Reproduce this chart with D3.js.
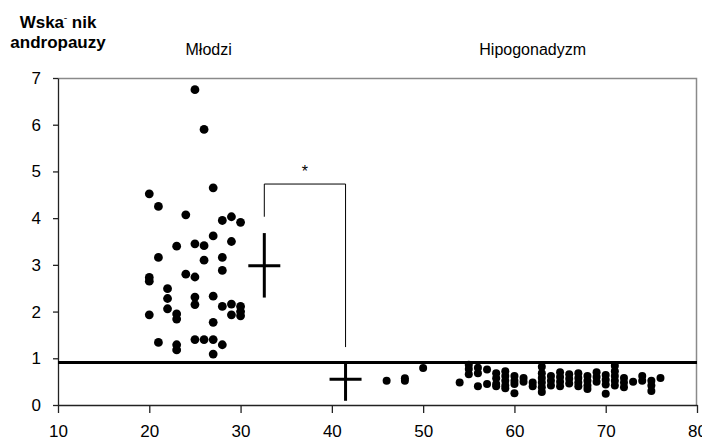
<!DOCTYPE html>
<html>
<head>
<meta charset="utf-8">
<script src="https://cdn.jsdelivr.net/npm/d3@7"></script>
<style>
  body { margin: 0; background: #fff; }
  svg { font-family: "Liberation Sans", Arial, sans-serif; }
</style>
</head>
<body>
<svg id="chart" width="702" height="443"></svg>
<script>
// Young men (Młodzi): age and andropause index
var youngAge = [25, 26, 27, 20, 21, 24, 28, 29, 30, 27, 29, 23, 25, 26, 21, 26, 28, 28, 20, 20, 24, 25,
    22, 22, 22, 25, 25, 27, 28, 29, 30, 29, 30, 20, 23, 23, 27, 21, 23, 23, 25, 26, 27, 28, 27, 30];
var youngScore = [6.75, 5.9, 4.65, 4.52, 4.25, 4.07, 3.95, 4.03, 3.91, 3.62, 3.5, 3.4, 3.45, 3.41, 3.16, 3.1, 3.16, 2.88, 2.73, 2.65, 2.8, 2.74,
    2.49, 2.28, 2.06, 2.31, 2.15, 2.33, 2.11, 2.16, 2.11, 1.93, 1.91, 1.93, 1.95, 1.84, 1.77, 1.34, 1.29, 1.18, 1.4, 1.4, 1.4, 1.29, 1.09, 2.0];

// Hypogonadism group
var hypoAge = [46, 48, 48, 50, 54, 55, 55, 55, 56, 56, 56, 57, 57, 58, 58, 58, 58, 59, 59, 59, 59, 59,
    60, 60, 60, 60, 61, 61, 62, 62, 63, 63, 63, 63, 63, 63, 64, 64, 64, 65, 65, 65, 65, 66, 66, 66,
    67, 67, 67, 67, 68, 68, 68, 68, 69, 69, 69, 70, 70, 70, 70, 71, 71, 71, 71, 71, 72, 72, 72, 73,
    74, 74, 75, 75, 75, 76];
var hypoScore = [0.52, 0.52, 0.57, 0.79, 0.48, 0.86, 0.77, 0.66, 0.8, 0.68, 0.4, 0.76, 0.45, 0.68, 0.57, 0.45, 0.4, 0.72, 0.62, 0.52, 0.42, 0.36,
    0.62, 0.52, 0.45, 0.25, 0.58, 0.5, 0.48, 0.4, 0.82, 0.68, 0.58, 0.48, 0.38, 0.28, 0.62, 0.52, 0.42, 0.7, 0.6, 0.5, 0.4, 0.66, 0.56, 0.46,
    0.68, 0.58, 0.48, 0.4, 0.62, 0.52, 0.42, 0.34, 0.7, 0.6, 0.5, 0.64, 0.54, 0.44, 0.24, 0.84, 0.72, 0.62, 0.52, 0.42, 0.58, 0.48, 0.38, 0.5,
    0.62, 0.52, 0.52, 0.42, 0.3, 0.58];

// Mean +/- SD crosses for both groups
var meanAge = [32.6, 41.5];
var meanScore = [2.98, 0.55];
var sdLow = [2.3, 0.09];
var sdHigh = [3.68, 0.89];

var threshold = 0.91;
var bracketBottom = [4.03, 1.24];
var bracketTop = 4.73;

var xTicks = [10, 20, 30, 40, 50, 60, 70, 80];
var yTicks = [0, 1, 2, 3, 4, 5, 6, 7];
var groupLabels = ["Młodzi", "Hipogonadyzm"];
var groupLabelAge = [26.5, 62];

var svg = d3.select("#chart"),
    margin = { top: 78, right: 5, bottom: 38, left: 58 },
    width = +svg.attr("width") - margin.left - margin.right,
    height = +svg.attr("height") - margin.top - margin.bottom,
    g = svg.append("g").attr("transform", "translate(" + margin.left + "," + margin.top + ")");

var x = d3.scaleLinear().domain([10, 80]).range([0, width]);
var y = d3.scaleLinear().domain([0, 7]).range([height, 0]);

// Plot border on top and right
g.append("path")
    .attr("d", "M0,0.5H" + (width - 0.5) + "V" + height)
    .attr("fill", "none")
    .attr("stroke", "#8a8a8a")
    .attr("stroke-width", 1.5);

// Axes
g.append("g")
    .attr("transform", "translate(0," + height + ")")
    .call(d3.axisBottom(x).tickValues(xTicks).tickFormat(d3.format("d"))
        .tickSize(8).tickSizeOuter(0).tickPadding(12));

g.append("g")
    .call(d3.axisLeft(y).tickValues(yTicks).tickFormat(d3.format("d"))
        .tickSize(5).tickSizeOuter(0).tickPadding(12));

svg.selectAll(".domain").attr("stroke", "#222").attr("stroke-width", 1.3);
svg.selectAll(".tick line").attr("stroke", "#222").attr("stroke-width", 1.3);
svg.selectAll(".tick text")
    .attr("fill", "#000")
    .attr("font-size", 17)
    .attr("font-family", "Liberation Sans, Arial, sans-serif");

// Threshold line
g.append("line")
    .attr("x1", 0)
    .attr("x2", width)
    .attr("y1", y(threshold))
    .attr("y2", y(threshold))
    .attr("stroke", "#000")
    .attr("stroke-width", 3);

// Scatter points
g.append("g").selectAll("circle")
    .data(youngAge.map(function (d, i) { return [d, youngScore[i]]; }))
    .enter().append("circle")
    .attr("cx", function (d) { return x(d[0]); })
    .attr("cy", function (d) { return y(d[1]); })
    .attr("r", 4.4)
    .attr("fill", "#000");

g.append("g").selectAll("circle")
    .data(hypoAge.map(function (d, i) { return [d, hypoScore[i]]; }))
    .enter().append("circle")
    .attr("cx", function (d) { return x(d[0]); })
    .attr("cy", function (d) { return y(d[1]); })
    .attr("r", 4)
    .attr("fill", "#000");

// Mean crosses
var cross = g.append("g").selectAll("g")
    .data(meanAge.map(function (d, i) { return i; }))
    .enter().append("g");

cross.append("line")
    .attr("x1", function (i) { return x(meanAge[i]); })
    .attr("x2", function (i) { return x(meanAge[i]); })
    .attr("y1", function (i) { return y(sdHigh[i]); })
    .attr("y2", function (i) { return y(sdLow[i]); })
    .attr("stroke", "#000")
    .attr("stroke-width", 3);

cross.append("line")
    .attr("x1", function (i) { return x(meanAge[i]) - 16; })
    .attr("x2", function (i) { return x(meanAge[i]) + 16; })
    .attr("y1", function (i) { return y(meanScore[i]); })
    .attr("y2", function (i) { return y(meanScore[i]); })
    .attr("stroke", "#000")
    .attr("stroke-width", 3);

// Significance bracket
g.append("path")
    .attr("d", "M" + x(meanAge[0]) + "," + y(bracketBottom[0]) +
        "V" + y(bracketTop) + "H" + x(meanAge[1]) + "V" + y(bracketBottom[1]))
    .attr("fill", "none")
    .attr("stroke", "#000")
    .attr("stroke-width", 1);

g.append("text")
    .attr("x", (x(meanAge[0]) + x(meanAge[1])) / 2)
    .attr("y", y(bracketTop) - 7)
    .attr("text-anchor", "middle")
    .attr("font-size", 16)
    .text("*");

// Group labels above the plot
svg.append("g").selectAll("text")
    .data(groupLabels)
    .enter().append("text")
    .attr("x", function (d, i) { return margin.left + x(groupLabelAge[i]); })
    .attr("y", 55)
    .attr("text-anchor", "middle")
    .attr("font-size", 16)
    .text(function (d) { return d; });

// Y axis title
var title = svg.append("text")
    .attr("text-anchor", "middle")
    .attr("font-size", 17)
    .attr("font-weight", "bold");
var line1 = title.append("tspan").attr("x", 58).attr("y", 28);
line1.append("tspan").text("Wska");
line1.append("tspan").attr("font-size", 9).attr("dy", -4).text("ˉ");
line1.append("tspan").attr("dy", 4).text(" nik");
title.append("tspan").attr("x", 58).attr("y", 48).text("andropauzy");
</script>
</body>
</html>
